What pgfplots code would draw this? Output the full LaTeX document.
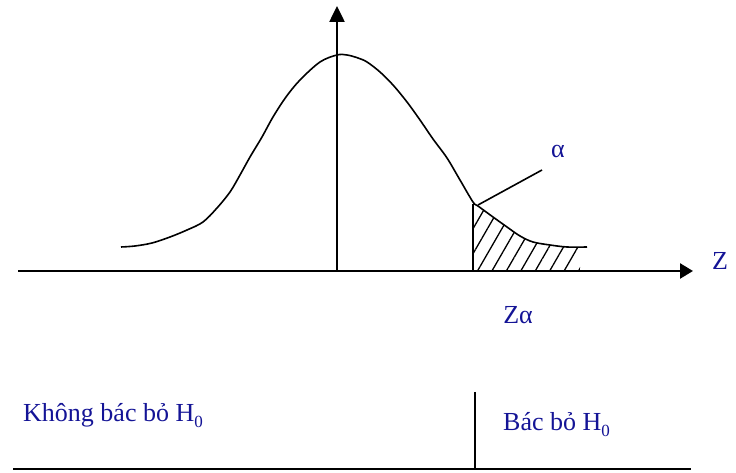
\documentclass[border=0pt]{standalone}
\usepackage{fontspec}
\setmainfont{Liberation Serif}
\usepackage{pgfplots}
\pgfplotsset{compat=1.18}
\usepgfplotslibrary{fillbetween}
\usetikzlibrary{arrows.meta, patterns.meta}
\definecolor{labelblue}{RGB}{20,20,150}
\tikzset{lbl/.style={font=\fontsize{26}{30}\selectfont, text=labelblue, inner sep=0pt}}
\newcommand{\sub}[1]{\raisebox{-6pt}{\fontsize{17}{18}\selectfont #1}}

% all coordinates are pixels of the reference, y measured downward
\pgfplotstableread{
x y
121 247
135 246
152 243
170 237
187 230
203 222
217 208
230 192
240 175
250 157
262 137
273 117
286 97
300 80
320 62
337 55
347 55
358 58
367 62
380 72
393 85
407 102
420 120
433 139
447 158
460 180
473 202
478 206
493 217
507 227
520 236
533 242
550 245
567 247
587 247
}\density

\begin{document}
\begin{tikzpicture}
\begin{axis}[
  width=736pt, height=473pt, scale only axis,
  xmin=0, xmax=736, ymin=0, ymax=473,
  y dir=reverse,
  hide axis, clip=false,
]
% keep the whole canvas in the bounding box
\path (axis cs:0,0) rectangle (axis cs:736,473);
% density curve
\addplot[name path=curve, black, line width=1.6pt, smooth, tension=0.55] table {\density};
\addplot[name path=base, draw=none] coordinates {(473,272) (590,272)};
% rejection region hatch
\addplot[pattern={Lines[angle=60, distance=12.5pt, line width=1.3pt]}, pattern color=black]
  fill between[of=curve and base, soft clip={domain=473:580}];
\addplot[black, line width=1.6pt] coordinates {(473,204) (473,272)};
% axes
\addplot[black, line width=2.5pt, -{Triangle[length=13pt, width=15pt]}] coordinates {(18,271) (693,271)};
\addplot[black, line width=2.5pt, -{Triangle[length=16pt, width=15pt]}] coordinates {(337,271) (337,6)};
% pointer to alpha
\addplot[black, line width=1.6pt] coordinates {(478,205) (542,170)};
\node[lbl] at (axis cs:558,152) {α};
\node[lbl] at (axis cs:720,261) {Z};
\node[lbl] at (axis cs:518,315) {Zα};
% decision line
\addplot[black, line width=2.5pt] coordinates {(13,469) (691,469)};
\addplot[black, line width=1.6pt] coordinates {(475,392) (475,469)};
\node[lbl, anchor=base west] at (axis cs:23,422) {Không bác bỏ H\sub{0}};
\node[lbl, anchor=base west] at (axis cs:503,431) {Bác bỏ H\sub{0}};
\end{axis}
\end{tikzpicture}
\end{document}
